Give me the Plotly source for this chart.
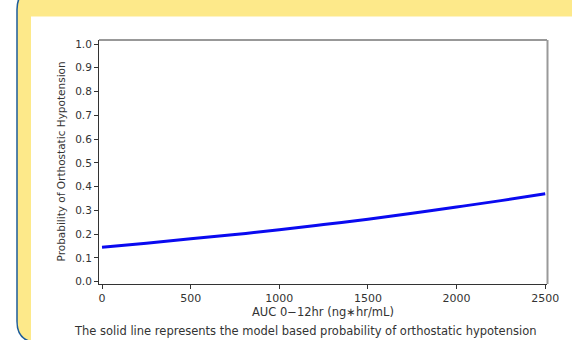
import plotly.graph_objects as go

# Data
auc = [0, 250, 500, 750, 1000, 1250, 1500, 1750, 2000, 2250, 2500]
prob = [0.145, 0.162, 0.180, 0.198, 0.218, 0.240, 0.263, 0.288, 0.314, 0.341, 0.370]
x_ticks = [0, 500, 1000, 1500, 2000, 2500]
y_ticks = [0.0, 0.1, 0.2, 0.3, 0.4, 0.5, 0.6, 0.7, 0.8, 0.9, 1.0]
x_title = "AUC 0\u221212hr (ng\u2217hr/mL)"
y_title = "Probability of Orthostatic Hypotension"
caption = "The solid line represents the model based probability of orthostatic hypotension"

W, H = 572, 340
L, R, T, B = 99, 547, 39.5, 284.5


def px(x):
    return (x - L) / (R - L)


def py(y):
    return (B - y) / (B - T)


FONT = "DejaVu Sans"
TXT = "#333333"

fig = go.Figure()
fig.add_trace(go.Scatter(x=auc, y=prob, mode="lines",
                         line=dict(color="#0a0af0", width=3, shape="spline"),
                         showlegend=False, hoverinfo="skip"))

# background decoration (yellow rounded panel with blue edge, white inner panel)
r = 21
x0, y0, y1 = 17, -12, 343
path = (f"M {px(700)},{py(y0)} L {px(x0 + r)},{py(y0)} "
        f"Q {px(x0)},{py(y0)} {px(x0)},{py(y0 + r)} "
        f"L {px(x0)},{py(y1 - r)} Q {px(x0)},{py(y1)} {px(x0 + r)},{py(y1)} "
        f"L {px(700)},{py(y1)} Z")
shapes = [
    dict(type="path", xref="paper", yref="paper", path=path,
         fillcolor="#fde98a", line=dict(color="#1d5c9a", width=1.5), layer="below"),
    dict(type="rect", xref="paper", yref="paper", x0=px(31), x1=px(700),
         y0=py(16), y1=py(400), fillcolor="white", line=dict(width=0), layer="below"),
    # frame top and right
    dict(type="line", xref="paper", yref="paper", x0=0, x1=1, y0=1, y1=1,
         line=dict(color="#333333", width=1)),
    dict(type="line", xref="paper", yref="paper", x0=px(547.5), x1=px(547.5), y0=0, y1=1,
         line=dict(color="#999999", width=2)),
]

annotations = [
    dict(text=y_title, xref="paper", yref="paper", x=px(60.5), y=0.5, textangle=-90,
         showarrow=False, font=dict(family=FONT, size=10.5, color=TXT),
         xanchor="center", yanchor="middle"),
    dict(text=x_title, xref="paper", yref="paper", x=px(323), y=py(312.5),
         showarrow=False, font=dict(family=FONT, size=11.5, color=TXT),
         xanchor="center", yanchor="middle"),
    dict(text=caption, xref="paper", yref="paper", x=px(305.5), y=py(331.5),
         showarrow=False, font=dict(family=FONT, size=11.5, color=TXT),
         xanchor="center", yanchor="middle"),
]

fig.update_layout(
    width=W, height=H,
    margin=dict(l=L, r=W - R, t=T, b=H - B, pad=0),
    paper_bgcolor="white", plot_bgcolor="rgba(0,0,0,0)",
    shapes=shapes, annotations=annotations,
    font=dict(family=FONT, size=11, color=TXT),
    xaxis=dict(range=[-17, 2510], tickvals=x_ticks, ticks="outside", ticklen=4,
               tickcolor="#333333", showline=True, linecolor="#333333", linewidth=1,
               showgrid=False, zeroline=False, tickfont=dict(size=11, color=TXT)),
    yaxis=dict(range=[-0.01, 1.017], tickvals=y_ticks, tickformat=".1f", ticks="outside",
               ticklen=4, tickcolor="#333333", showline=True, linecolor="#333333",
               linewidth=1, showgrid=False, zeroline=False,
               tickfont=dict(size=10.5, color=TXT)),
)

fig.write_html("out.html", config={"displayModeBar": False},
               post_script="document.body.style.margin='0';document.body.style.overflow='hidden';")
